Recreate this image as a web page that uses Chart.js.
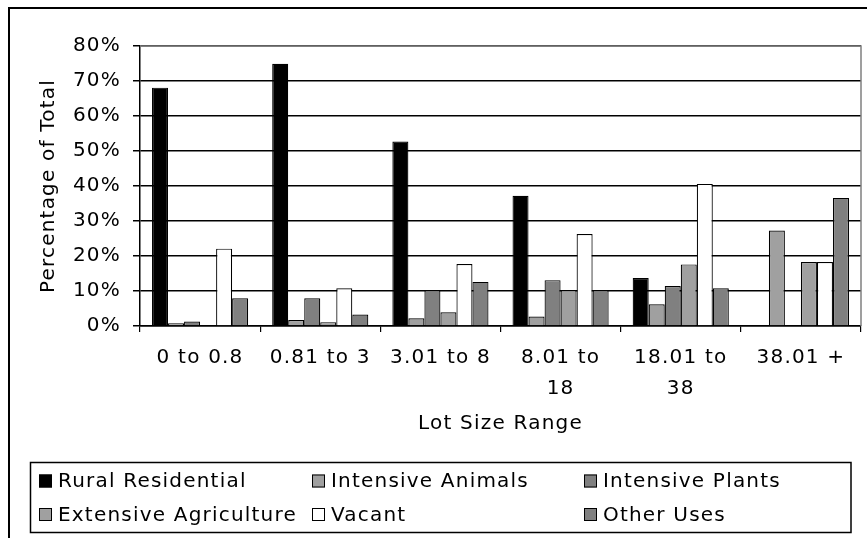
<!DOCTYPE html>
<html>
<head>
<meta charset="utf-8">
<script src="https://cdn.jsdelivr.net/npm/chart.js@4/dist/chart.umd.min.js"></script>
<style>
  html, body { margin: 0; padding: 0; background: #ffffff; }
  #wrap { position: relative; width: 867px; height: 538px; }
</style>
</head>
<body>
<div id="wrap"><canvas id="chart" width="867" height="538"></canvas></div>
<script>
// Lot size categories (x axis)
const categories = ['0 to 0.8', '0.81 to 3', '3.01 to 8', ['8.01 to', '18'], ['18.01 to', '38'], '38.01 +'];

// Share of total (%) for each land use, per lot size range
const ruralResidential     = [68.1, 74.9, 52.7, 37.2, 13.7, 0];
const intensiveAnimals     = [0.8, 1.7, 2.2, 2.7, 6.2, 27.3];
const intensivePlants      = [1.3, 7.9, 10.3, 13.1, 11.4, 0];
const extensiveAgriculture = [0, 1.1, 3.9, 10.3, 17.6, 18.3];
const vacant               = [22.1, 10.8, 17.7, 26.3, 40.6, 18.3];
const otherUses            = [7.9, 3.3, 12.6, 10.3, 10.8, 36.6];

// Y axis ticks
const yTickValues = [0, 10, 20, 30, 40, 50, 60, 70, 80];

const seriesNames = ['Rural Residential', 'Intensive Animals', 'Intensive Plants',
                     'Extensive Agriculture', 'Vacant', 'Other Uses'];
const seriesValues = [ruralResidential, intensiveAnimals, intensivePlants,
                      extensiveAgriculture, vacant, otherUses];
const seriesColors = ['#000000', '#a0a0a0', '#808080', '#a0a0a0', '#ffffff', '#808080'];

const FONT = 'DejaVu Sans';
const LETTER_SPACING = '1.2px';

// Wide lettering for every label the chart draws
const spacingPlugin = {
  id: 'spacing',
  beforeUpdate(chart) { chart.ctx.letterSpacing = LETTER_SPACING; },
  beforeLayout(chart) { chart.ctx.letterSpacing = LETTER_SPACING; },
  beforeDraw(chart) { chart.ctx.letterSpacing = LETTER_SPACING; }
};

// Outer frame, plot border (top/right) and the boxed two-row legend
const framePlugin = {
  id: 'frame',
  beforeDraw(chart) {
    const ctx = chart.ctx;
    ctx.save();
    ctx.fillStyle = '#ffffff';
    ctx.fillRect(0, 0, chart.width, chart.height);
    ctx.restore();
  },
  afterDraw(chart) {
    const ctx = chart.ctx;
    const a = chart.chartArea;
    ctx.save();
    // plot area border: grey on top and right
    ctx.strokeStyle = '#808080';
    ctx.lineWidth = 1.5;
    ctx.beginPath();
    ctx.moveTo(a.left, a.top);
    ctx.lineTo(a.right, a.top);
    ctx.lineTo(a.right, a.bottom);
    ctx.stroke();

    // outer chart frame
    ctx.strokeStyle = '#000000';
    ctx.lineWidth = 2;
    ctx.strokeRect(9, 8, chart.width + 20, chart.height + 20);

    // legend box
    ctx.lineWidth = 1.5;
    ctx.strokeRect(30.5, 462.5, 820.5, 70);

    const colX = [39, 312, 584];
    const rowY = [481, 514.5];
    const order = [[0, 1, 2], [3, 4, 5]];
    ctx.font = '20px "' + FONT + '"';
    ctx.textBaseline = 'middle';
    ctx.textAlign = 'left';
    order.forEach((row, r) => {
      row.forEach((di, c) => {
        const ds = chart.data.datasets[di];
        const x = colX[c], y = rowY[r];
        ctx.fillStyle = ds.backgroundColor;
        ctx.fillRect(x, y - 6.5, 13, 13);
        ctx.strokeStyle = '#000000';
        ctx.lineWidth = 1;
        ctx.strokeRect(x + 0.5, y - 6, 12, 12);
        ctx.fillStyle = '#000000';
        ctx.fillText(ds.label, x + 19, y + 1);
      });
    });
    ctx.restore();
  }
};

new Chart(document.getElementById('chart'), {
  type: 'bar',
  data: {
    labels: categories,
    datasets: seriesNames.map((name, i) => ({
      label: name,
      data: seriesValues[i],
      backgroundColor: seriesColors[i],
      borderColor: '#000000',
      borderWidth: 1.2,
      categoryPercentage: 0.8,
      barPercentage: 1.0
    }))
  },
  options: {
    responsive: false,
    animation: false,
    layout: { padding: { left: 0, right: 6, top: 46, bottom: 88 } },
    plugins: {
      legend: { display: false },
      tooltip: { enabled: false }
    },
    scales: {
      x: {
        grid: {
          offset: true,
          drawOnChartArea: false,
          drawTicks: true,
          tickLength: 6,
          color: '#000000',
          lineWidth: 1.2
        },
        border: { color: '#000000', width: 1.5 },
        ticks: {
          color: '#000000',
          font: { family: FONT, size: 20, lineHeight: 1.55 },
          padding: 10,
          maxRotation: 0,
          autoSkip: false
        },
        title: {
          display: true,
          text: 'Lot Size Range',
          color: '#000000',
          font: { family: FONT, size: 20 },
          padding: { top: 0, bottom: 14 }
        },
        afterFit(scale) { scale.height = 124; }
      },
      y: {
        min: 0,
        max: 80,
        afterBuildTicks(scale) { scale.ticks = yTickValues.map(v => ({ value: v })); },
        grid: {
          color: '#000000',
          lineWidth: 1.5,
          tickLength: 7,
          drawTicks: true
        },
        border: { color: '#000000', width: 1.5 },
        ticks: {
          color: '#000000',
          font: { family: FONT, size: 20 },
          padding: 12,
          callback: v => v + '%'
        },
        title: {
          display: true,
          text: 'Percentage of Total',
          color: '#000000',
          font: { family: FONT, size: 20 },
          padding: { top: 37, bottom: 0 }
        },
        afterFit(scale) { scale.width = 140; }
      }
    }
  },
  plugins: [spacingPlugin, framePlugin]
});
</script>
</body>
</html>
